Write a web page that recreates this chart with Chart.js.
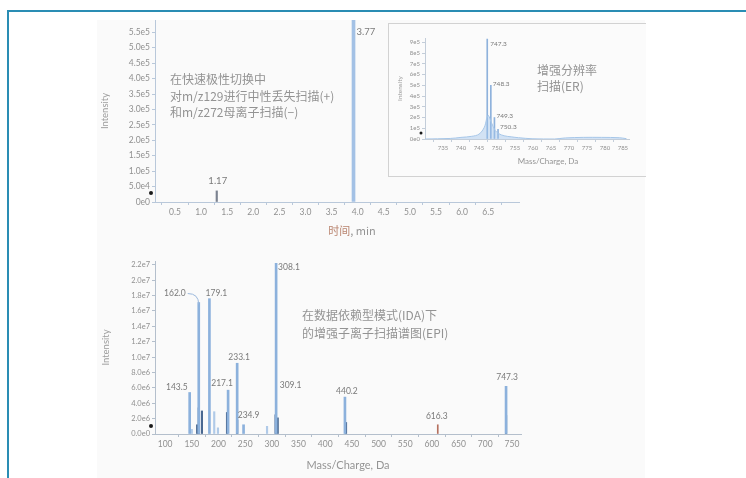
<!DOCTYPE html>
<html><head><meta charset="utf-8">
<script src="https://cdn.jsdelivr.net/npm/chart.js@4.4.0/dist/chart.umd.min.js"></script>
<style>
body{margin:0;width:746px;height:478px;background:#fff;position:relative;overflow:hidden;font-family:Lato,'Noto Sans CJK SC',sans-serif}
#frameTop{position:absolute;left:7px;top:10px;width:739px;height:2px;background:#2a8db4}
#frameLeft{position:absolute;left:7px;top:10px;width:2px;height:468px;background:#2a8db4}
#panel{position:absolute;left:97px;top:20px;width:548px;height:458px;background:#fafafa}
#inset{position:absolute;left:388px;top:23px;width:257px;height:152px;border:1px solid #d2d2d2;border-right:none;background:#fbfbfb}
canvas{position:absolute}
.note{position:absolute;color:#939393;font-family:'Noto Sans CJK SC';font-size:12px;white-space:nowrap}
.ttl{position:absolute;text-align:center;white-space:nowrap;color:#949494}
</style></head>
<body>
<div id="frameTop"></div><div id="frameLeft"></div>
<div id="panel"></div>
<div id="inset"></div>
<canvas id="cTop" width="440" height="230" style="left:97px;top:12px"></canvas>
<canvas id="cIns" width="257" height="151" style="left:388px;top:24px"></canvas>
<canvas id="cBot" width="440" height="221" style="left:97px;top:253px"></canvas>
<div class="note" style="left:170px;top:71px;line-height:16.5px">在快速极性切换中<br>对m/z129进行中性丢失扫描(+)<br>和m/z272母离子扫描(−)</div>
<div class="note" style="left:537px;top:62px;line-height:16px">增强分辨率<br>扫描(ER)</div>
<div class="note" style="left:302px;top:306px;line-height:18px">在数据依赖型模式(IDA)下<br>的增强子离子扫描谱图(EPI)</div>
<div class="ttl" style="left:292px;top:222px;width:120px;font-size:11px;line-height:16px;font-family:'Noto Sans CJK SC'"><span style="color:#b98570">时间</span>, min</div>
<div class="ttl" style="left:498px;top:155px;width:100px;font-size:8px;line-height:12px">Mass/Charge, Da</div>
<div class="ttl" style="left:268px;top:457px;width:160px;font-size:11px;line-height:16px">Mass/Charge, Da</div>
<script>
// ---------- data: chromatogram (top) ----------
const chromTimes = [1.30, 3.92];
const chromIntensity = [3.6e4, 5.9e5];
const chromPeakLabels = ['1.17', '3.77'];
const chromThreshold = 2.9e4;
const chromXTicks = [0.5, 1.0, 1.5, 2.0, 2.5, 3.0, 3.5, 4.0, 4.5, 5.0, 5.5, 6.0, 6.5];
const chromXTickLabels = ['0.5','1.0','1.5','2.0','2.5','3.0','3.5','4.0','4.5','5.0','5.5','6.0','6.5'];
const chromYTicks = [0, 5e4, 1e5, 1.5e5, 2e5, 2.5e5, 3e5, 3.5e5, 4e5, 4.5e5, 5e5, 5.5e5];
const chromYTickLabels = ['0e0','5.0e4','1.0e5','1.5e5','2.0e5','2.5e5','3.0e5','3.5e5','4.0e5','4.5e5','5.0e5','5.5e5'];

// ---------- data: enhanced resolution scan (inset) ----------
const erMz = [747.3, 748.3, 749.3, 750.3];
const erIntensity = [9.3e5, 5.0e5, 2.0e5, 0.9e5];
const erPeakLabels = ['747.3', '748.3', '749.3', '750.3'];
const erProfileMz = [730, 737, 740, 743, 745, 746.5, 747.5, 748.5, 749.5, 750.5, 752, 754, 756, 760, 766, 769, 774, 779, 784, 786];
const erProfileIntensity = [0, 0.05e5, 0.15e5, 0.25e5, 0.45e5, 1.1e5, 2.2e5, 1.5e5, 0.8e5, 0.5e5, 0.3e5, 0.2e5, 0.12e5, 0.02e5, 0, 0.1e5, 0.15e5, 0.15e5, 0.12e5, 0.03e5];
const erThreshold = 0.55e5;
const erXTicks = [735, 740, 745, 750, 755, 760, 765, 770, 775, 780, 785];
const erXTickLabels = ['735','740','745','750','755','760','765','770','775','780','785'];
const erYTicks = [0, 1e5, 2e5, 3e5, 4e5, 5e5, 6e5, 7e5, 8e5, 9e5];
const erYTickLabels = ['0e0','1e5','2e5','3e5','4e5','5e5','6e5','7e5','8e5','9e5'];

// ---------- data: enhanced product ion spectrum (bottom) ----------
const epiMz = [146, 163, 183, 218, 235, 247, 308, 437, 739];
const epiIntensity = [5.4e6, 1.71e7, 1.76e7, 5.7e6, 9.2e6, 1.2e6, 2.22e7, 4.8e6, 6.2e6];
const epiPeakLabels = ['143.5', '162.0', '179.1', '217.1', '233.1', '234.9', '308.1', '440.2', '747.3'];
const epiMinorMz = [160, 163, 169, 216, 235, 307, 311, 439, 739];
const epiMinorIntensity = [1.2e6, 3.4e6, 3.0e6, 2.8e6, 1.8e6, 2.5e6, 2.1e6, 1.5e6, 2.4e6];
const epiMinorLabels = ['', '', '', '', '', '', '309.1', '', ''];
const epiFaintMz = [150, 192, 199, 291];
const epiFaintIntensity = [0.6e6, 2.9e6, 0.8e6, 1.0e6];
const epiRedMz = [611];
const epiRedIntensity = [1.2e6];
const epiRedLabels = ['616.3'];
const epiThreshold = 1.04e6;
const epiXTicks = [100, 150, 200, 250, 300, 350, 400, 450, 500, 550, 600, 650, 700, 750];
const epiXTickLabels = ['100','150','200','250','300','350','400','450','500','550','600','650','700','750'];
const epiYTicks = [0, 2e6, 4e6, 6e6, 8e6, 1e7, 1.2e7, 1.4e7, 1.6e7, 1.8e7, 2e7, 2.2e7];
const epiYTickLabels = ['0.0e0','2.0e6','4.0e6','6.0e6','8.0e6','1.0e7','1.2e7','1.4e7','1.6e7','1.8e7','2.0e7','2.2e7'];

// ---------- helpers ----------
const pts = (xs, ys) => xs.map((x, i) => ({x, y: ys[i]}));
const setTicks = (vals) => (axis) => { axis.ticks = vals.map(v => ({value: v})); };
const labelFrom = (vals, labels) => (v) => { const i = vals.indexOf(v); return i >= 0 ? labels[i] : ''; };

const peakLabelPlugin = {
  id: 'peakLabels',
  afterDatasetsDraw(chart, args, opts) {
    const ctx = chart.ctx, xs = chart.scales.x, ys = chart.scales.y;
    ctx.save();
    ctx.font = opts.font; ctx.fillStyle = opts.color; ctx.textBaseline = 'middle';
    (opts.items || []).forEach(it => {
      const p = chart.data.datasets[it.ds].data[it.i];
      const px = xs.getPixelForValue(p.x), py = ys.getPixelForValue(p.y);
      if (it.leader) {
        ctx.strokeStyle = '#9bb8dc'; ctx.lineWidth = 1;
        ctx.beginPath(); ctx.moveTo(px + it.dx + 2, py + it.dy); ctx.quadraticCurveTo(px, py + it.dy, px, py + 2); ctx.stroke();
      }
      ctx.textAlign = it.align || 'center';
      ctx.fillText(it.text, px + (it.dx || 0), py + (it.dy || 0));
    });
    if (opts.marker != null) {
      ctx.fillStyle = '#1a1a1a';
      ctx.beginPath(); ctx.arc(chart.chartArea.left - 4, ys.getPixelForValue(opts.marker), opts.markerR || 2, 0, Math.PI * 2); ctx.fill();
    }
    ctx.restore();
  }
};

function axisX(min, max, ticks, labels, fontSize, height, color) {
  return {
    type: 'linear', min, max, offset: false,
    afterBuildTicks: setTicks(ticks),
    afterFit: (s) => { s.height = height; },
    ticks: {callback: labelFrom(ticks, labels), color: '#909090', font: {family: 'Lato', size: fontSize}, padding: 2, maxRotation: 0, autoSkip: false},
    grid: {drawOnChartArea: false, drawTicks: true, tickLength: 3, color: color},
    border: {color: color, width: 1}
  };
}
function axisY(max, ticks, labels, fontSize, width, title, titleSize, titlePad, color) {
  return {
    min: 0, max,
    afterBuildTicks: setTicks(ticks),
    afterFit: (s) => { s.width = width; },
    ticks: {callback: labelFrom(ticks, labels), color: '#909090', font: {family: 'Lato', size: fontSize}, padding: 2, autoSkip: false},
    grid: {drawOnChartArea: false, drawTicks: true, tickLength: 3, color: color},
    border: {color: color, width: 1},
    title: {display: true, text: title, color: '#9c9c9c', font: {family: 'Lato', size: titleSize}, padding: {top: titlePad, bottom: 0}}
  };
}
const common = {responsive: false, animation: false, devicePixelRatio: 1, events: []};

// ---------- top chart ----------
new Chart(document.getElementById('cTop'), {
  type: 'bar',
  data: {datasets: [
    {data: pts([chromTimes[0]], [chromIntensity[0]]), backgroundColor: '#7b8290', barThickness: 1.5, grouped: false},
    {data: pts([chromTimes[1]], [chromIntensity[1]]), backgroundColor: '#a3c1e5', barThickness: 3, grouped: false}
  ]},
  options: Object.assign({}, common, {
    layout: {padding: {top: 8, right: 18, left: 0, bottom: 0}},
    scales: {
      x: axisX(0.117, 7.09, chromXTicks, chromXTickLabels, 8.5, 40, '#b9c8da'),
      y: axisY(5.9e5, chromYTicks, chromYTickLabels, 8.5, 58, 'Intensity', 9.5, 2, '#b9c8da')
    },
    plugins: {legend: {display: false}, tooltip: {enabled: false},
      peakLabels: {font: '9.5px Lato', color: '#7a7a7a', marker: chromThreshold, items: [
        {ds: 0, i: 0, text: chromPeakLabels[0], dx: 1, dy: -10, align: 'center'},
        {ds: 1, i: 0, text: chromPeakLabels[1], dx: 3, dy: 12, align: 'left'}
      ]}}
  }),
  plugins: [peakLabelPlugin]
});

// ---------- inset chart ----------
new Chart(document.getElementById('cIns'), {
  type: 'bar',
  data: {datasets: [
    {type: 'line', data: pts(erProfileMz, erProfileIntensity), borderColor: '#a6c6e8', backgroundColor: 'rgba(160,196,234,0.45)', fill: 'origin', borderWidth: 1, pointRadius: 0, tension: 0.35},
    {data: pts(erMz, erIntensity), backgroundColor: '#8fb2dc', barThickness: 1, grouped: false}
  ]},
  options: Object.assign({}, common, {
    layout: {padding: {top: 14, right: 16, left: 0, bottom: 0}},
    scales: {
      x: axisX(730, 786.7, erXTicks, erXTickLabels, 6, 36, '#c3cdd9'),
      y: axisY(9.4e5, erYTicks, erYTickLabels, 6, 37, 'Intensity', 6.5, 8, '#c3cdd9')
    },
    plugins: {legend: {display: false}, tooltip: {enabled: false},
      peakLabels: {font: '6.5px Lato', color: '#7a7a7a', marker: erThreshold, markerR: 1.5, items: [
        {ds: 1, i: 0, text: erPeakLabels[0], dx: 3, dy: 5, align: 'left'},
        {ds: 1, i: 1, text: erPeakLabels[1], dx: 2, dy: -1, align: 'left'},
        {ds: 1, i: 2, text: erPeakLabels[2], dx: 2, dy: -2, align: 'left'},
        {ds: 1, i: 3, text: erPeakLabels[3], dx: 2, dy: -2, align: 'left'}
      ]}}
  }),
  plugins: [peakLabelPlugin]
});

// ---------- bottom chart ----------
new Chart(document.getElementById('cBot'), {
  type: 'bar',
  data: {datasets: [
    {data: pts(epiMz, epiIntensity), backgroundColor: '#8cb1dc', barThickness: 2, grouped: false},
    {data: pts(epiFaintMz, epiFaintIntensity), backgroundColor: '#b0cae8', barThickness: 1.5, grouped: false},
    {data: pts(epiMinorMz, epiMinorIntensity), backgroundColor: '#4a6890', barThickness: 1.5, grouped: false},
    {data: pts(epiRedMz, epiRedIntensity), backgroundColor: '#b5705e', barThickness: 1, grouped: false}
  ]},
  options: Object.assign({}, common, {
    layout: {padding: {top: 8, right: 16, left: 0, bottom: 0}},
    scales: {
      x: axisX(81, 767, epiXTicks, epiXTickLabels, 8.5, 40, '#b4bfcc'),
      y: axisY(2.25e7, epiYTicks, epiYTickLabels, 7.5, 58, 'Intensity', 9.5, 3, '#b4bfcc')
    },
    plugins: {legend: {display: false}, tooltip: {enabled: false},
      peakLabels: {font: '8.5px Lato', color: '#7a7a7a', marker: epiThreshold, items: [
        {ds: 0, i: 0, text: epiPeakLabels[0], dx: -2, dy: -5, align: 'right'},
        {ds: 0, i: 1, text: epiPeakLabels[1], dx: -13, dy: -9, align: 'right', leader: true},
        {ds: 0, i: 2, text: epiPeakLabels[2], dx: 7, dy: -5, align: 'center'},
        {ds: 0, i: 3, text: epiPeakLabels[3], dx: -6, dy: -7, align: 'center'},
        {ds: 0, i: 4, text: epiPeakLabels[4], dx: 2, dy: -6, align: 'center'},
        {ds: 0, i: 5, text: epiPeakLabels[5], dx: 5, dy: -10, align: 'center'},
        {ds: 0, i: 6, text: epiPeakLabels[6], dx: 2, dy: 4, align: 'left'},
        {ds: 0, i: 7, text: epiPeakLabels[7], dx: 2, dy: -6, align: 'center'},
        {ds: 0, i: 8, text: epiPeakLabels[8], dx: 1, dy: -9, align: 'center'},
        {ds: 2, i: 6, text: epiMinorLabels[6], dx: 2, dy: -33, align: 'left'},
        {ds: 3, i: 0, text: epiRedLabels[0], dx: -1, dy: -9, align: 'center'}
      ]}}
  }),
  plugins: [peakLabelPlugin]
});
</script>
</body></html>
